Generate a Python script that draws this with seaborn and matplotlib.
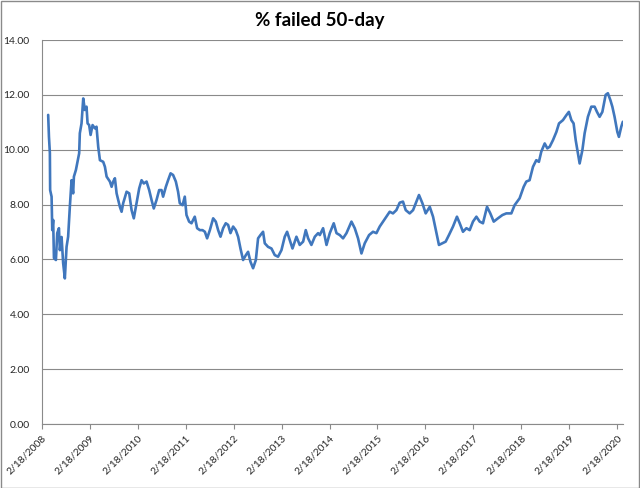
import matplotlib
matplotlib.use("Agg")
import matplotlib.pyplot as plt
import matplotlib.dates as mdates
from matplotlib.patches import Rectangle
import seaborn as sns
import pandas as pd

# 50-day rolling % failed
dates = [
  '2008-04-08', '2008-04-14', '2008-04-21', '2008-04-23', '2008-05-04', '2008-05-09', '2008-05-16',
  '2008-05-22', '2008-06-06', '2008-06-16', '2008-06-29', '2008-07-06', '2008-07-19', '2008-07-31',
  '2008-08-13', '2008-08-26', '2008-09-07', '2008-09-20', '2008-10-03', '2008-10-15', '2008-10-21',
  '2008-11-05', '2008-11-15', '2008-11-30', '2008-12-05', '2008-12-18', '2008-12-31', '2009-01-12',
  '2009-01-25', '2009-02-02', '2009-02-14', '2009-02-25', '2009-03-12', '2009-03-30', '2009-04-11',
  '2009-04-24', '2009-05-07', '2009-06-01', '2009-06-14', '2009-06-27', '2009-07-22', '2009-08-04',
  '2009-08-16', '2009-08-29', '2009-09-11', '2009-10-06', '2009-10-19', '2009-10-31', '2009-11-26',
  '2009-12-16', '2010-01-03', '2010-01-20', '2010-02-10', '2010-03-02', '2010-03-20', '2010-04-06',
  '2010-04-27', '2010-05-17', '2010-06-04', '2010-06-21', '2010-07-12', '2010-08-01', '2010-08-19',
  '2010-08-31', '2010-09-21', '2010-10-08', '2010-10-27', '2010-11-15', '2010-12-06', '2010-12-23',
  '2011-01-05', '2011-01-26', '2011-02-12', '2011-02-25', '2011-03-17', '2011-04-04', '2011-04-29',
  '2011-05-17', '2011-06-07', '2011-06-27', '2011-07-15', '2011-08-01', '2011-08-22', '2011-09-16',
  '2011-10-06', '2011-10-24', '2011-11-11', '2011-12-01', '2011-12-21', '2012-01-08', '2012-01-26',
  '2012-02-15', '2012-03-06', '2012-03-24', '2012-04-11', '2012-05-01', '2012-05-22', '2012-06-08',
  '2012-06-26', '2012-07-16', '2012-08-06', '2012-08-23', '2012-09-10', '2012-09-30', '2012-10-13',
  '2012-11-07', '2012-12-03', '2012-12-28', '2013-01-22', '2013-02-17', '2013-03-14', '2013-04-01',
  '2013-04-21', '2013-05-12', '2013-05-29', '2013-06-11', '2013-07-06', '2013-08-01', '2013-08-21',
  '2013-09-08', '2013-10-03', '2013-10-29', '2013-11-23', '2013-12-06', '2013-12-31', '2014-01-26',
  '2014-02-20', '2014-03-22', '2014-04-12', '2014-05-07', '2014-06-01', '2014-06-27', '2014-08-04',
  '2014-08-29', '2014-09-23', '2014-10-19', '2014-11-13', '2014-12-16', '2015-01-15', '2015-02-10',
  '2015-03-07', '2015-04-01', '2015-04-27', '2015-05-22', '2015-06-16', '2015-07-12', '2015-08-06',
  '2015-08-31', '2015-09-21', '2015-10-21', '2015-11-16', '2015-12-11', '2015-12-31', '2016-01-26',
  '2016-02-20', '2016-03-22', '2016-04-16', '2016-05-12', '2016-05-31', '2016-06-26', '2016-07-21',
  '2016-08-15', '2016-09-15', '2016-10-15', '2016-11-05', '2016-11-30', '2016-12-26', '2017-01-20',
  '2017-02-14', '2017-03-12', '2017-04-06', '2017-05-01', '2017-06-01', '2017-06-26', '2017-07-22',
  '2017-08-23', '2017-09-26', '2017-10-26', '2017-12-03', '2017-12-28', '2018-02-04', '2018-03-07',
  '2018-03-27', '2018-04-21', '2018-05-17', '2018-06-11', '2018-07-01', '2018-07-19', '2018-08-14',
  '2018-09-03', '2018-09-21', '2018-10-16', '2018-11-11', '2018-12-01', '2018-12-31', '2019-01-26',
  '2019-02-14', '2019-03-05', '2019-03-22', '2019-04-07', '2019-04-24', '2019-05-07', '2019-05-28',
  '2019-06-14', '2019-07-09', '2019-08-04', '2019-08-29', '2019-09-16', '2019-10-06', '2019-10-27',
  '2019-11-21', '2019-12-08', '2019-12-27', '2020-01-11', '2020-01-28', '2020-02-18', '2020-03-01',
  '2020-03-19', '2020-03-31',
]
pct_failed = [
  11.27, 10.47, 9.88, 8.53, 8.29, 7.07, 7.44,
  6.05, 5.98, 6.96, 7.14, 6.34, 6.82, 5.87,
  5.31, 6.46, 6.83, 7.92, 8.89, 8.41, 9.02,
  9.26, 9.50, 9.87, 10.60, 10.96, 11.87, 11.45,
  11.57, 10.96, 10.90, 10.54, 10.90, 10.78, 10.84,
  10.11, 9.62, 9.56, 9.38, 9.02, 8.84, 8.65,
  8.84, 8.96, 8.41, 7.92, 7.74, 8.05, 8.47,
  8.41, 7.80, 7.50, 8.05, 8.59, 8.89, 8.77,
  8.84, 8.53, 8.17, 7.86, 8.17, 8.53, 8.53,
  8.29, 8.65, 8.89, 9.14, 9.08, 8.84, 8.47,
  8.05, 7.98, 8.29, 7.62, 7.38, 7.32, 7.56,
  7.14, 7.07, 7.07, 7.01, 6.77, 7.07, 7.50,
  7.38, 7.07, 6.83, 7.14, 7.32, 7.26, 6.96,
  7.20, 7.07, 6.83, 6.40, 5.98, 6.16, 6.28,
  5.92, 5.68, 5.98, 6.77, 6.89, 7.01, 6.59,
  6.46, 6.40, 6.16, 6.10, 6.34, 6.83, 7.01,
  6.71, 6.40, 6.65, 6.83, 6.53, 6.65, 7.07,
  6.77, 6.53, 6.83, 6.96, 6.89, 7.14, 6.53,
  6.96, 7.32, 6.96, 6.89, 6.77, 6.96, 7.38,
  7.14, 6.77, 6.22, 6.59, 6.89, 7.01, 6.96,
  7.20, 7.38, 7.56, 7.74, 7.68, 7.80, 8.07,
  8.11, 7.80, 7.68, 7.80, 8.11, 8.35, 8.05,
  7.68, 7.92, 7.56, 6.96, 6.53, 6.59, 6.65,
  6.89, 7.20, 7.56, 7.32, 7.01, 7.14, 7.07,
  7.38, 7.56, 7.38, 7.32, 7.92, 7.68, 7.38,
  7.50, 7.62, 7.68, 7.68, 7.98, 8.23, 8.65,
  8.84, 8.89, 9.38, 9.62, 9.56, 9.93, 10.23,
  10.05, 10.11, 10.35, 10.65, 10.96, 11.08, 11.26,
  11.38, 11.08, 10.96, 10.35, 9.86, 9.50, 9.99,
  10.60, 11.20, 11.57, 11.57, 11.38, 11.20, 11.38,
  12.00, 12.06, 11.81, 11.57, 11.20, 10.65, 10.47,
  10.84, 11.02,
]
tick_dates = ['2008-02-18', '2009-02-18', '2010-02-18', '2011-02-18', '2012-02-18',
              '2013-02-18', '2014-02-18', '2015-02-18', '2016-02-18', '2017-02-18',
              '2018-02-18', '2019-02-18', '2020-02-18']
y_ticks = [0, 2, 4, 6, 8, 10, 12, 14]

df = pd.DataFrame({'date': pd.to_datetime(dates), 'pct': pct_failed})

sns.set_style('white')
plt.rcParams['font.family'] = ['Lato', 'DejaVu Sans']

fig = plt.figure(figsize=(6.4, 4.88), dpi=100)
ax = fig.add_axes([0.065, 0.131, 0.908, 0.787])

sns.lineplot(data=df, x='date', y='pct', ax=ax, color='#4077BD', linewidth=1.9)

ax.set_xlim(pd.Timestamp('2008-02-18'), pd.Timestamp('2020-03-30'))
ax.set_ylim(0, 14)
ax.set_yticks(y_ticks)
ax.set_yticklabels([f'{v:.2f}' for v in y_ticks])
ax.set_xticks(pd.to_datetime(tick_dates))
ax.xaxis.set_major_formatter(mdates.DateFormatter('%-m/%d/%Y'))
for lbl in ax.get_xticklabels():
  lbl.set_rotation(45)
  lbl.set_ha('right')
  lbl.set_rotation_mode('anchor')

ax.yaxis.grid(True, color='#8a8a8a', linewidth=0.8)
ax.xaxis.grid(False)
ax.set_axisbelow(True)
ax.set_xlabel('')
ax.set_ylabel('')

for side in ['top', 'right']:
  ax.spines[side].set_visible(False)
for side in ['left', 'bottom']:
  ax.spines[side].set_color('#8a8a8a')
  ax.spines[side].set_linewidth(0.8)

ax.tick_params(axis='x', bottom=True, length=3.5, width=0.8, color='#8a8a8a',
               labelsize=7.5, labelcolor='#262626', pad=3)
ax.tick_params(axis='y', left=False, labelsize=7.5, labelcolor='#262626', pad=5)

fig.suptitle('% failed 50-day', x=0.5, y=0.975, fontsize=13.5, fontweight='bold', color='black')

fig.patches.append(Rectangle((0.001, 0.001), 0.997, 0.997, transform=fig.transFigure,
                             fill=False, edgecolor='#8a8a8a', linewidth=1))

fig.savefig('out.png', dpi=100)
